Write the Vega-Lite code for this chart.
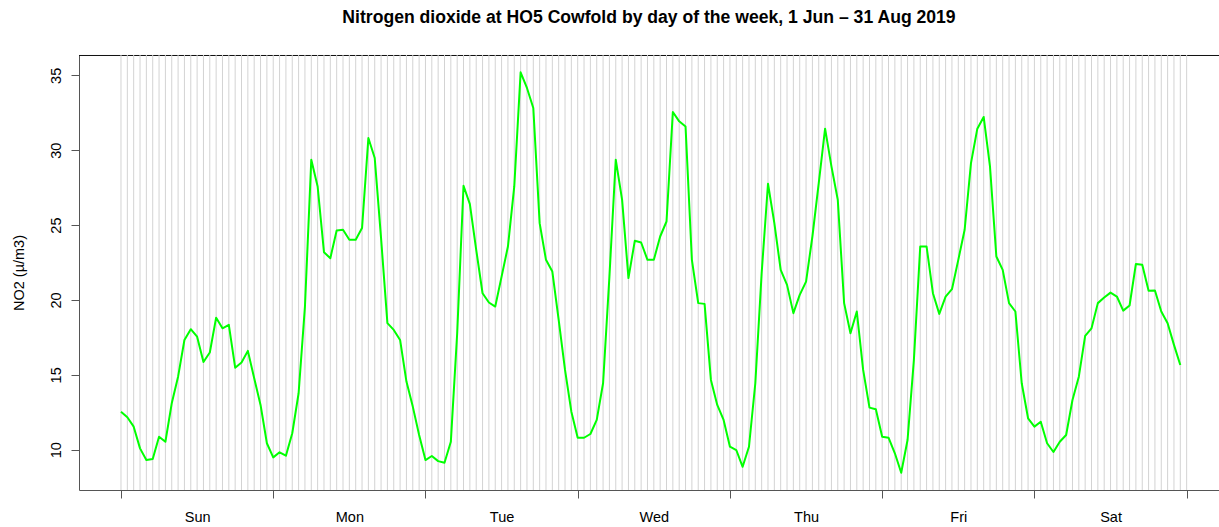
{
  "$schema": "https://vega.github.io/schema/vega-lite/v6.json",
  "width": 1140,
  "height": 435,
  "autosize": {"type": "none"},
  "padding": {"left": 79, "top": 55, "right": 0, "bottom": 37},
  "background": "white",
  "config": {
    "view": {"stroke": null},
    "font": "Liberation Sans"
  },
  "title": {
    "text": "Nitrogen dioxide at HO5 Cowfold by day of the week, 1 Jun – 31 Aug 2019",
    "font": "Liberation Sans",
    "fontSize": 17.6,
    "fontWeight": "bold",
    "color": "#000000",
    "anchor": "middle",
    "baseline": "alphabetic",
    "offset": 14
  },
  "data": {
    "values": [
      {"h": 0, "v": 12.54}, {"h": 1, "v": 12.17}, {"h": 2, "v": 11.54}, {"h": 3, "v": 10.09},
      {"h": 4, "v": 9.31}, {"h": 5, "v": 9.38}, {"h": 6, "v": 10.87}, {"h": 7, "v": 10.53},
      {"h": 8, "v": 13.1}, {"h": 9, "v": 14.88}, {"h": 10, "v": 17.33}, {"h": 11, "v": 18.05},
      {"h": 12, "v": 17.55}, {"h": 13, "v": 15.86}, {"h": 14, "v": 16.49}, {"h": 15, "v": 18.82},
      {"h": 16, "v": 18.11}, {"h": 17, "v": 18.34}, {"h": 18, "v": 15.48}, {"h": 19, "v": 15.82},
      {"h": 20, "v": 16.6}, {"h": 21, "v": 14.77}, {"h": 22, "v": 12.99}, {"h": 23, "v": 10.43},
      {"h": 24, "v": 9.49}, {"h": 25, "v": 9.83}, {"h": 26, "v": 9.6}, {"h": 27, "v": 11.1},
      {"h": 28, "v": 13.77}, {"h": 29, "v": 19.56}, {"h": 30, "v": 29.37}, {"h": 31, "v": 27.58},
      {"h": 32, "v": 23.19}, {"h": 33, "v": 22.79}, {"h": 34, "v": 24.64}, {"h": 35, "v": 24.69},
      {"h": 36, "v": 24.02}, {"h": 37, "v": 24.02}, {"h": 38, "v": 24.8}, {"h": 39, "v": 30.82},
      {"h": 40, "v": 29.48}, {"h": 41, "v": 24.13}, {"h": 42, "v": 18.45}, {"h": 43, "v": 18.0},
      {"h": 44, "v": 17.33}, {"h": 45, "v": 14.55}, {"h": 46, "v": 12.88}, {"h": 47, "v": 10.98},
      {"h": 48, "v": 9.31}, {"h": 49, "v": 9.58}, {"h": 50, "v": 9.24}, {"h": 51, "v": 9.13},
      {"h": 52, "v": 10.53}, {"h": 53, "v": 17.78}, {"h": 54, "v": 27.63}, {"h": 55, "v": 26.4},
      {"h": 56, "v": 23.35}, {"h": 57, "v": 20.45}, {"h": 58, "v": 19.83}, {"h": 59, "v": 19.56},
      {"h": 60, "v": 21.56}, {"h": 61, "v": 23.57}, {"h": 62, "v": 27.58}, {"h": 63, "v": 35.2},
      {"h": 64, "v": 34.16}, {"h": 65, "v": 32.82}, {"h": 66, "v": 25.13}, {"h": 67, "v": 22.68},
      {"h": 68, "v": 21.9}, {"h": 69, "v": 18.67}, {"h": 70, "v": 15.33}, {"h": 71, "v": 12.54},
      {"h": 72, "v": 10.8}, {"h": 73, "v": 10.8}, {"h": 74, "v": 11.05}, {"h": 75, "v": 11.99},
      {"h": 76, "v": 14.44}, {"h": 77, "v": 21.56}, {"h": 78, "v": 29.37}, {"h": 79, "v": 26.69},
      {"h": 80, "v": 21.46}, {"h": 81, "v": 23.95}, {"h": 82, "v": 23.84}, {"h": 83, "v": 22.68},
      {"h": 84, "v": 22.68}, {"h": 85, "v": 24.24}, {"h": 86, "v": 25.24}, {"h": 87, "v": 32.55},
      {"h": 88, "v": 31.93}, {"h": 89, "v": 31.59}, {"h": 90, "v": 22.68}, {"h": 91, "v": 19.79},
      {"h": 92, "v": 19.74}, {"h": 93, "v": 14.66}, {"h": 94, "v": 12.99}, {"h": 95, "v": 11.99},
      {"h": 96, "v": 10.2}, {"h": 97, "v": 9.98}, {"h": 98, "v": 8.86}, {"h": 99, "v": 10.2},
      {"h": 100, "v": 14.44}, {"h": 101, "v": 21.79}, {"h": 102, "v": 27.76}, {"h": 103, "v": 25.13},
      {"h": 104, "v": 22.01}, {"h": 105, "v": 21.01}, {"h": 106, "v": 19.12}, {"h": 107, "v": 20.34},
      {"h": 108, "v": 21.23}, {"h": 109, "v": 24.24}, {"h": 110, "v": 27.8}, {"h": 111, "v": 31.44},
      {"h": 112, "v": 28.92}, {"h": 113, "v": 26.69}, {"h": 114, "v": 19.79}, {"h": 115, "v": 17.78},
      {"h": 116, "v": 19.23}, {"h": 117, "v": 15.33}, {"h": 118, "v": 12.81}, {"h": 119, "v": 12.7},
      {"h": 120, "v": 10.87}, {"h": 121, "v": 10.8}, {"h": 122, "v": 9.76}, {"h": 123, "v": 8.46},
      {"h": 124, "v": 10.65}, {"h": 125, "v": 16.0}, {"h": 126, "v": 23.57}, {"h": 127, "v": 23.57},
      {"h": 128, "v": 20.45}, {"h": 129, "v": 19.07}, {"h": 130, "v": 20.23}, {"h": 131, "v": 20.72},
      {"h": 132, "v": 22.68}, {"h": 133, "v": 24.69}, {"h": 134, "v": 29.14}, {"h": 135, "v": 31.44},
      {"h": 136, "v": 32.22}, {"h": 137, "v": 28.9}, {"h": 138, "v": 22.9}, {"h": 139, "v": 22.01},
      {"h": 140, "v": 19.79}, {"h": 141, "v": 19.23}, {"h": 142, "v": 14.44}, {"h": 143, "v": 12.1},
      {"h": 144, "v": 11.54}, {"h": 145, "v": 11.87}, {"h": 146, "v": 10.43}, {"h": 147, "v": 9.85},
      {"h": 148, "v": 10.53}, {"h": 149, "v": 10.98}, {"h": 150, "v": 13.32}, {"h": 151, "v": 14.88},
      {"h": 152, "v": 17.6}, {"h": 153, "v": 18.11}, {"h": 154, "v": 19.79}, {"h": 155, "v": 20.16},
      {"h": 156, "v": 20.49}, {"h": 157, "v": 20.23}, {"h": 158, "v": 19.29}, {"h": 159, "v": 19.63},
      {"h": 160, "v": 22.41}, {"h": 161, "v": 22.35}, {"h": 162, "v": 20.61}, {"h": 163, "v": 20.63},
      {"h": 164, "v": 19.23}, {"h": 165, "v": 18.45}, {"h": 166, "v": 17.0}, {"h": 167, "v": 15.66}
    ]
  },
  "layer": [
    {
      "data": {"values": [{"k": 1}]},
      "mark": {"type": "rule", "color": "#111111", "strokeWidth": 1},
      "encoding": {
        "y": {
          "datum": 36.327,
          "type": "quantitative",
          "scale": {"domain": [7.31, 36.36], "nice": false, "zero": false},
          "axis": {
            "values": [10, 15, 20, 25, 30, 35],
            "tickSize": 8, "tickColor": "#555555", "domainColor": "#555555",
            "labelAngle": -90, "labelAlign": "center", "labelBaseline": "alphabetic", "labelPadding": 11,
            "labelFont": "Liberation Sans", "labelFontSize": 14.5, "labelColor": "#000000",
            "labelOverlap": false, "labelFlush": false, "grid": false,
            "title": "NO2 (µ/m3)", "titleFont": "Liberation Sans", "titleFontSize": 14.5, "titleFontWeight": "normal",
            "titleColor": "#000000", "titleAngle": -90, "titleAlign": "center", "titleBaseline": "alphabetic",
            "titleX": -56, "titleY": 217.5
          }
        }
      }
    },
    {
      "mark": {"type": "rule", "color": "#d3d3d3", "strokeWidth": 1},
      "encoding": {
        "x": {
          "field": "h",
          "type": "quantitative",
          "scale": {"domain": [-6.62, 173.1], "nice": false, "zero": false},
          "axis": {
            "values": [0, 12, 24, 36, 48, 60, 72, 84, 96, 108, 120, 132, 144, 156, 168],
            "labelExpr": "datum.value % 24 == 12 ? ['Sun','Mon','Tue','Wed','Thu','Fri','Sat'][floor(datum.value / 24)] : ''",
            "tickOpacity": {"condition": {"test": "datum.value % 24 == 12", "value": 0}, "value": 1},
            "tickSize": 8, "tickColor": "#555555", "domainColor": "#555555",
            "labelFont": "Liberation Sans", "labelFontSize": 14.5, "labelColor": "#000000",
            "labelPadding": 23, "labelBaseline": "alphabetic", "labelAlign": "center",
            "labelOverlap": false, "labelFlush": false, "labelBound": false, "grid": false, "title": null
          }
        }
      }
    },
    {
      "data": {"values": [{"k": 1}]},
      "mark": {"type": "rule", "color": "#d3d3d3", "strokeWidth": 1},
      "encoding": {
        "x": {
          "datum": 168,
          "type": "quantitative",
          "scale": {"domain": [-6.62, 173.1], "nice": false, "zero": false},
          "axis": {
            "values": [0, 12, 24, 36, 48, 60, 72, 84, 96, 108, 120, 132, 144, 156, 168],
            "labelExpr": "datum.value % 24 == 12 ? ['Sun','Mon','Tue','Wed','Thu','Fri','Sat'][floor(datum.value / 24)] : ''",
            "tickOpacity": {"condition": {"test": "datum.value % 24 == 12", "value": 0}, "value": 1},
            "tickSize": 8, "tickColor": "#555555", "domainColor": "#555555",
            "labelFont": "Liberation Sans", "labelFontSize": 14.5, "labelColor": "#000000",
            "labelPadding": 23, "labelBaseline": "alphabetic", "labelAlign": "center",
            "labelOverlap": false, "labelFlush": false, "labelBound": false, "grid": false, "title": null
          }
        }
      }
    },
    {
      "mark": {"type": "line", "color": "#00ff00", "strokeWidth": 2, "strokeJoin": "round"},
      "encoding": {
        "x": {
          "field": "h",
          "type": "quantitative",
          "scale": {"domain": [-6.62, 173.1], "nice": false, "zero": false},
          "axis": {
            "values": [0, 12, 24, 36, 48, 60, 72, 84, 96, 108, 120, 132, 144, 156, 168],
            "labelExpr": "datum.value % 24 == 12 ? ['Sun','Mon','Tue','Wed','Thu','Fri','Sat'][floor(datum.value / 24)] : ''",
            "tickOpacity": {"condition": {"test": "datum.value % 24 == 12", "value": 0}, "value": 1},
            "tickSize": 8, "tickColor": "#555555", "domainColor": "#555555",
            "labelFont": "Liberation Sans", "labelFontSize": 14.5, "labelColor": "#000000",
            "labelPadding": 23, "labelBaseline": "alphabetic", "labelAlign": "center",
            "labelOverlap": false, "labelFlush": false, "labelBound": false, "grid": false, "title": null
          }
        },
        "y": {
          "field": "v",
          "type": "quantitative",
          "scale": {"domain": [7.31, 36.36], "nice": false, "zero": false},
          "axis": {
            "values": [10, 15, 20, 25, 30, 35],
            "tickSize": 8, "tickColor": "#555555", "domainColor": "#555555",
            "labelAngle": -90, "labelAlign": "center", "labelBaseline": "alphabetic", "labelPadding": 11,
            "labelFont": "Liberation Sans", "labelFontSize": 14.5, "labelColor": "#000000",
            "labelOverlap": false, "labelFlush": false, "grid": false,
            "title": "NO2 (µ/m3)", "titleFont": "Liberation Sans", "titleFontSize": 14.5, "titleFontWeight": "normal",
            "titleColor": "#000000", "titleAngle": -90, "titleAlign": "center", "titleBaseline": "alphabetic",
            "titleX": -56, "titleY": 217.5
          }
        }
      }
    }
  ]
}
